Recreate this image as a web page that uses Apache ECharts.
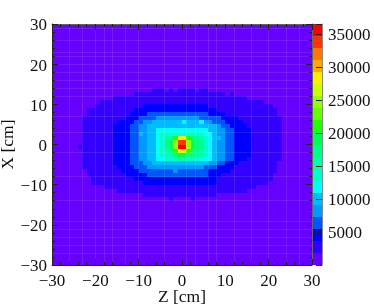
<!DOCTYPE html>
<html><head><meta charset="utf-8">
<style>html,body{margin:0;padding:0;background:#fff}#c{width:374px;height:306px}</style>
<script src="https://cdn.jsdelivr.net/npm/echarts@6/dist/echarts.min.js"></script>
</head><body><div id="c"></div>
<script>
// 60 x 60 one-centimetre bins.
const barTicks = [5000,10000,15000,20000,25000,30000,35000];
const bandColors = ['#6600ff','#3300ff','#0000ff','#0055ff','#0099ff','#00bbff','#00ffff','#00ffcc','#00ffaa','#00ff88',
  '#00ff55','#22ff00','#66ff00','#99ff00','#ccff00','#ffee00','#ffaa00','#ff7700','#ff3300','#ff0000'];
const bandWidth = 1825;
const firstRow = 16;
// each row from the top: "column:band" changes, left to right, from band 0
const rowSpans = [
 '23:1 26:0 27:1 28:0 29:1 33:0 34:1 36:0',
 '19:1 40:0 41:1 42:0',
 '14:1 45:0',
 '11:1 49:0',
 '10:1 21:2 36:1 51:0',
 '8:1 19:2 38:1 52:0',
 '8:1 18:2 22:3 36:2 40:1 52:0',
 '7:1 17:2 20:3 24:4 34:3 39:2 43:1 53:0',
 '7:1 15:2 19:3 21:4 23:5 30:6 31:5 34:6 35:4 37:3 40:2 44:1 53:0',
 '7:1 14:2 18:3 20:4 22:5 38:4 39:3 41:2 45:1 53:0',
 '7:1 14:2 18:3 20:4 22:5 24:6 36:5 38:4 40:3 42:2 46:1 53:0',
 '7:1 14:2 18:3 20:5 21:4 22:5 24:6 25:7 35:6 37:5 38:4 40:3 42:2 46:1 53:0',
 '7:1 14:2 18:3 20:4 22:5 24:6 25:7 26:8 27:9 28:11 29:15 31:11 32:9 34:8 35:7 36:6 37:5 39:4 40:3 42:2 46:1 53:0',
 '7:1 14:2 18:3 20:4 22:5 24:6 25:7 26:9 27:10 28:13 29:18 31:13 32:10 33:9 35:7 36:6 37:5 38:4 40:3 42:2 46:1 53:0',
 '6:1 14:2 18:3 20:4 22:5 24:6 25:7 26:9 27:10 28:13 29:19 31:13 32:10 33:9 35:7 36:6 37:5 38:4 40:3 42:2 46:1 53:0',
 '7:1 14:2 18:3 20:4 22:5 24:6 25:7 26:8 27:9 28:11 29:14 31:11 32:9 34:8 35:7 36:6 37:5 38:4 40:3 42:2 46:1 53:0',
 '7:1 14:2 18:3 20:4 22:5 24:6 25:7 27:8 28:9 29:10 31:9 33:8 35:7 36:6 37:5 38:4 40:3 42:2 46:1 53:0',
 '7:1 14:2 18:3 20:4 22:5 24:6 26:7 29:8 31:7 34:6 37:5 38:4 40:3 42:2 45:1 53:0',
 '7:1 14:2 18:3 21:4 23:5 36:4 38:3 40:2 43:1 52:0',
 '7:1 15:2 19:3 22:4 35:3 38:2 42:1 52:0',
 '8:1 16:2 20:3 28:4 29:3 36:2 41:1 52:0',
 '8:1 17:2 22:3 36:2 39:1 51:0',
 '9:1 19:2 38:1 51:0',
 '9:1 21:2 38:1 50:0',
 '12:1 47:0',
 '15:1 45:0',
 '21:1 38:0',
 '27:1 28:0 32:1 33:0'
];
// faint pale lines that run through the map
const seamX = [-26,-23,-20,-18,-16,-13,-10,-4,1,3,6,8,12,16,20,24,27];
const seamY = [29,26,23,22,20,18,16,14,12,7,3,-2,-8,-14,-19,-21,-23,-25,-27];

const cells = [];
for (let r = 0; r < 60; r++) {
  const changes = (rowSpans[r - firstRow] || '').split(' ').filter(Boolean).map(s => s.split(':').map(Number));
  for (let c = 0; c < 60; c++) {
    let band = 0;
    for (const [col, b] of changes) if (c >= col) band = b;
    cells.push([c - 30, 29 - r, (band + 0.5) * bandWidth, band]);
  }
}
const barData = bandColors.map((_, i) => [i * bandWidth, (i + 1) * bandWidth, i]);

const FONT = '"Liberation Serif"';
const ln = {color:'#222', width:1};
const fmt = v => String(v).replace('-', '\u2212');
function xAx(extra){return Object.assign({type:'value',gridIndex:0,min:-30,max:30,interval:10,z:5,
  axisLine:{show:true,onZero:false,lineStyle:ln},
  axisTick:{show:true,inside:true,length:6,lineStyle:ln},
  minorTick:{show:true,splitNumber:5,length:3,lineStyle:ln},
  splitLine:{show:false},
  axisLabel:{show:false}},extra);}
const labelStyle = {show:true,fontFamily:FONT,fontSize:17,color:'#111',formatter:fmt,hideOverlap:false};
const nudged = {n:{fontFamily:FONT,fontSize:17,color:'#111',padding:[4,0,0,0]}};

const option = {
  animation:false,
  backgroundColor:'#fff',
  grid:[{left:52,top:24,width:260,height:241,outerBoundsMode:'none'},{left:313,top:24,width:9,height:241,outerBoundsMode:'none'}],
  xAxis:[
    xAx({position:'bottom',axisLabel:Object.assign({},labelStyle,{margin:8}),name:'Z [cm]',nameLocation:'middle',nameGap:23,nameMoveOverlap:false,
      nameTextStyle:{fontFamily:FONT,fontSize:17.5,color:'#111'}}),
    xAx({position:'top',axisLine:{show:true,onZero:false,lineStyle:{color:'#666',width:1}}}),
    {type:'value',gridIndex:1,min:0,max:1,show:false}
  ],
  yAxis:[
    xAx({position:'left',axisLabel:Object.assign({},labelStyle,{margin:5,rich:nudged,formatter:v=>`{n|${fmt(v)}}`}),name:'X [cm]',nameLocation:'middle',nameGap:35,nameMoveOverlap:false,
      nameTextStyle:{fontFamily:FONT,fontSize:17.5,color:'#111'}}),
    xAx({position:'right',axisLine:{show:true,onZero:false,lineStyle:{color:'#666',width:1}}}),
    {type:'value',gridIndex:1,position:'right',min:0,max:bandWidth*20,interval:5000,z:5,
      axisLine:{show:true,onZero:false,lineStyle:{color:'#888',width:1}},
      axisTick:{show:true,inside:true,length:6,lineStyle:{color:'#222'}},
      splitLine:{show:false},
      axisLabel:{show:true,fontFamily:FONT,fontSize:17,color:'#111',margin:6,rich:nudged,
        formatter:v=>barTicks.includes(v)?`{n|${v}}`:''}}
  ],
  series:[
    {type:'custom',coordinateSystem:'cartesian2d',xAxisIndex:0,yAxisIndex:0,silent:true,z:1,
     data:cells,encode:{x:0,y:1},clip:true,
     renderItem(p,api){
       const a=api.coord([api.value(0),api.value(1)+1]),b=api.coord([api.value(0)+1,api.value(1)]);
       const x0=Math.round(a[0]),y0=Math.round(a[1]),x1=Math.round(b[0]),y1=Math.round(b[1]);
       return {type:'rect',shape:{x:x0,y:y0,width:x1-x0,height:y1-y0},style:{fill:bandColors[api.value(3)]}};
     },
     markLine:{silent:true,symbol:'none',label:{show:false},animation:false,
       lineStyle:{color:'rgba(255,255,255,0.1)',width:1,type:'solid'},
       data:seamX.map(v=>({xAxis:v})).concat(seamY.map(v=>({yAxis:v})))}
    },
    {type:'custom',coordinateSystem:'cartesian2d',xAxisIndex:2,yAxisIndex:2,silent:true,z:1,
     data:barData,encode:{y:[0,1]},
     renderItem(p,api){
       const a=api.coord([0,api.value(1)]),b=api.coord([1,api.value(0)]);
       return {type:'rect',shape:{x:a[0],y:Math.round(a[1]),width:b[0]-a[0],height:Math.round(b[1])-Math.round(a[1])},
         style:{fill:bandColors[api.value(2)]}};
     }}
  ]
};
echarts.init(document.getElementById('c'),null,{renderer:'canvas'}).setOption(option);
</script></body></html>
